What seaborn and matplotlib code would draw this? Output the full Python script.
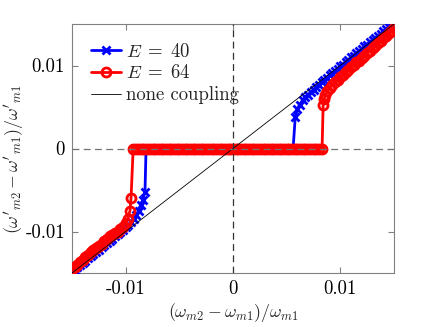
import numpy as np
import pandas as pd
import matplotlib
matplotlib.use("Agg")
import matplotlib.pyplot as plt
import seaborn as sns

# ---------------- data ----------------
blue_x_lower = [-0.015, -0.01475, -0.0145, -0.01425, -0.014, -0.01375, -0.0135, -0.01325,
                -0.013, -0.01275, -0.0125, -0.01225, -0.012, -0.01175, -0.0115, -0.01125,
                -0.011, -0.01075, -0.0105, -0.01025, -0.010, -0.00975, -0.0095, -0.00925,
                -0.009, -0.0088, -0.0086, -0.0084, -0.0082]
blue_y_lower = [-0.0149, -0.0146, -0.0143, -0.01405, -0.0138, -0.0135, -0.0132, -0.01295,
                -0.0127, -0.01245, -0.0122, -0.0119, -0.0116, -0.01135, -0.0111, -0.01085,
                -0.0106, -0.01035, -0.0101, -0.0098, -0.0095, -0.0092, -0.0088, -0.00845,
                -0.0080, -0.0075, -0.0068, -0.0062, -0.0052]
blue_x_flat = [-0.0081,
               -0.008, -0.00775, -0.0075, -0.00725, -0.007, -0.00675, -0.0065, -0.00625,
               -0.006, -0.00575, -0.0055, -0.00525, -0.005, -0.00475, -0.0045, -0.00425,
               -0.004, -0.00375, -0.0035, -0.00325, -0.003, -0.00275, -0.0025, -0.00225,
               -0.002, -0.00175, -0.0015, -0.00125, -0.001, -0.00075, -0.0005, -0.00025,
               0.0, 0.00025, 0.0005, 0.00075, 0.001, 0.00125, 0.0015, 0.00175,
               0.002, 0.00225, 0.0025, 0.00275, 0.003, 0.00325, 0.0035, 0.00375,
               0.004, 0.00425, 0.0045, 0.00475, 0.005, 0.00525, 0.0055, 0.0056]
blue_y_flat = [0, 0, 0, 0, 0, 0, 0, 0, 0, 0,
               0, 0, 0, 0, 0, 0, 0, 0, 0, 0,
               0, 0, 0, 0, 0, 0, 0, 0, 0, 0,
               0, 0, 0, 0, 0, 0, 0, 0, 0, 0,
               0, 0, 0, 0, 0, 0, 0, 0, 0, 0,
               0, 0, 0, 0, 0, 0, 0]
blue_x_upper = [0.0058, 0.0060, 0.0062, 0.0065, 0.00675, 0.0070, 0.00725, 0.0075, 0.00775,
                0.0080, 0.00825, 0.0085, 0.00875, 0.009, 0.00925, 0.0095, 0.00975,
                0.010, 0.01025, 0.0105, 0.01075, 0.011, 0.01125, 0.0115, 0.01175,
                0.012, 0.01225, 0.0125, 0.01275, 0.013, 0.01325, 0.0135, 0.01375,
                0.014, 0.01425, 0.0145, 0.01475, 0.015]
blue_y_upper = [0.0038, 0.0047, 0.0053, 0.0058, 0.0062, 0.0065, 0.0068, 0.0071, 0.0074,
                0.0077, 0.0080, 0.0082, 0.0085, 0.0088, 0.0091, 0.0093, 0.0096,
                0.0099, 0.0101, 0.0104, 0.0107, 0.0110, 0.0112, 0.0115, 0.0117,
                0.0120, 0.0123, 0.0125, 0.0128, 0.0131, 0.0133, 0.0136, 0.0138,
                0.0141, 0.0144, 0.0146, 0.0149, 0.0152]

red_x_lower = [-0.015, -0.01475, -0.0145, -0.01425, -0.014, -0.01375, -0.0135, -0.01325,
               -0.013, -0.01275, -0.0125, -0.01225, -0.012, -0.01175, -0.0115, -0.01125,
               -0.011, -0.01075, -0.0105, -0.01025, -0.010, -0.0098, -0.0096, -0.0095]
red_y_lower = [-0.0145, -0.01425, -0.0140, -0.0137, -0.0134, -0.0131, -0.0128, -0.0125,
               -0.0122, -0.0120, -0.0117, -0.0115, -0.0112, -0.0109, -0.0106, -0.0104,
               -0.0102, -0.0100, -0.0097, -0.0094, -0.0090, -0.0085, -0.0075, -0.0060]
red_x_flat = [-0.0093,
              -0.009, -0.00875, -0.0085, -0.00825,
              -0.008, -0.00775, -0.0075, -0.00725, -0.007, -0.00675, -0.0065, -0.00625,
              -0.006, -0.00575, -0.0055, -0.00525, -0.005, -0.00475, -0.0045, -0.00425,
              -0.004, -0.00375, -0.0035, -0.00325, -0.003, -0.00275, -0.0025, -0.00225,
              -0.002, -0.00175, -0.0015, -0.00125, -0.001, -0.00075, -0.0005, -0.00025,
              0.0, 0.00025, 0.0005, 0.00075, 0.001, 0.00125, 0.0015, 0.00175,
              0.002, 0.00225, 0.0025, 0.00275, 0.003, 0.00325, 0.0035, 0.00375,
              0.004, 0.00425, 0.0045, 0.00475, 0.005, 0.00525, 0.0055,
              0.00575, 0.006, 0.00625, 0.0065, 0.00675, 0.007, 0.00725, 0.0075, 0.00775, 0.008,
              0.0083]
red_y_flat = [0, 0, 0, 0, 0, 0, 0, 0, 0, 0,
              0, 0, 0, 0, 0, 0, 0, 0, 0, 0,
              0, 0, 0, 0, 0, 0, 0, 0, 0, 0,
              0, 0, 0, 0, 0, 0, 0, 0, 0, 0,
              0, 0, 0, 0, 0, 0, 0, 0, 0, 0,
              0, 0, 0, 0, 0, 0, 0, 0, 0, 0,
              0, 0, 0, 0, 0, 0, 0, 0, 0, 0,
              0]
red_x_upper = [0.0084, 0.0085, 0.0086, 0.0088, 0.0090, 0.00925, 0.0095, 0.00975,
               0.010, 0.01025, 0.0105, 0.01075, 0.011, 0.01125, 0.0115, 0.01175,
               0.012, 0.01225, 0.0125, 0.01275, 0.013, 0.01325, 0.0135, 0.01375,
               0.014, 0.01425, 0.0145, 0.01475, 0.015]
red_y_upper = [0.0053, 0.0060, 0.0064, 0.0069, 0.0073, 0.0077, 0.0080, 0.0083,
               0.0086, 0.0089, 0.0092, 0.0095, 0.0098, 0.0101, 0.0104, 0.0106,
               0.0109, 0.0112, 0.0115, 0.0118, 0.0121, 0.0124, 0.0127, 0.0130,
               0.0133, 0.0136, 0.0139, 0.0142, 0.0145]

ref_x = [-0.015, 0.015]
ref_y = [-0.015, 0.015]

series_labels = [r"$E\;=\;40$", r"$E\;=\;64$", "none coupling"]
tick_values = [-0.01, 0, 0.01]
tick_labels = ["-0.01", "0", "0.01"]
x_limits = [-0.015, 0.015]
y_limits = [-0.015, 0.015]

# ---------------- build tables ----------------
blue_df = pd.DataFrame({"x": blue_x_lower + blue_x_flat + blue_x_upper,
                        "y": blue_y_lower + blue_y_flat + blue_y_upper})
red_df = pd.DataFrame({"x": red_x_lower + red_x_flat + red_x_upper,
                       "y": red_y_lower + red_y_flat + red_y_upper})
ref_df = pd.DataFrame({"x": ref_x, "y": ref_y})

# ---------------- style ----------------
sns.set_style("ticks")
plt.rcParams.update({
    "font.family": "serif",
    "font.serif": ["cmr10", "DejaVu Serif"],
    "mathtext.fontset": "cm",
    "axes.unicode_minus": False,
    "axes.formatter.use_mathtext": True,
})

FS = 13.5
LFS = 12.8
W, H = 436, 327
fig = plt.figure(figsize=(W / 100, H / 100), dpi=100)
ax = fig.add_axes([72 / W, 1 - 273 / H, (394 - 72) / W, (273 - 24) / H])

sns.lineplot(data=blue_df, x="x", y="y", ax=ax, sort=False, estimator=None,
             color=(0, 0, 1), lw=2.0, marker="x", markersize=5.5, markeredgewidth=2.0,
             markeredgecolor=(0, 0, 1), zorder=3)
sns.lineplot(data=red_df, x="x", y="y", ax=ax, sort=False, estimator=None,
             color=(1, 0, 0), lw=2.0, marker="o", markersize=6.5, markeredgewidth=2.0,
             markeredgecolor=(1, 0, 0), markerfacecolor="none", zorder=4)
sns.lineplot(data=ref_df, x="x", y="y", ax=ax, sort=False, estimator=None,
             color="black", lw=0.6, zorder=5)

ax.axhline(0, color="0.45", lw=0.9, ls=(0, (5.5, 3.5)), zorder=6)
ax.axvline(0, color="0.2", lw=0.9, ls=(0, (5.5, 3.5)), zorder=6)

ax.set_xlim(x_limits)
ax.set_ylim(y_limits)
ax.set_xticks(tick_values)
ax.set_xticklabels(tick_labels)
ax.set_yticks(tick_values)
ax.set_yticklabels(tick_labels)
ax.tick_params(direction="in", length=4, width=0.8, top=True, right=True,
               color="0.5", labelsize=FS, labelcolor="black", pad=5)
for sp in ax.spines.values():
    sp.set_color("0.5")
    sp.set_linewidth(0.8)

ax.set_xlabel(r"$(\omega_{m2}-\omega_{m1})/\omega_{m1}$", fontsize=LFS)
ax.set_ylabel(r"$(\omega'_{m2}-\omega'_{m1})/\omega'_{m1}$", fontsize=LFS)
ax.xaxis.set_label_coords(0.5, (273 - 301) / 249)
ax.yaxis.set_label_coords((26 - 72) / 322, (273 - 159) / 249)

handles = ax.get_lines()[:3]
ax.legend(handles, series_labels, loc="upper left", frameon=False, fontsize=FS,
          handlelength=1.6, handletextpad=0.3, labelspacing=0.2,
          borderaxespad=0.6, borderpad=0.4)

fig.savefig("out.png", dpi=100)
